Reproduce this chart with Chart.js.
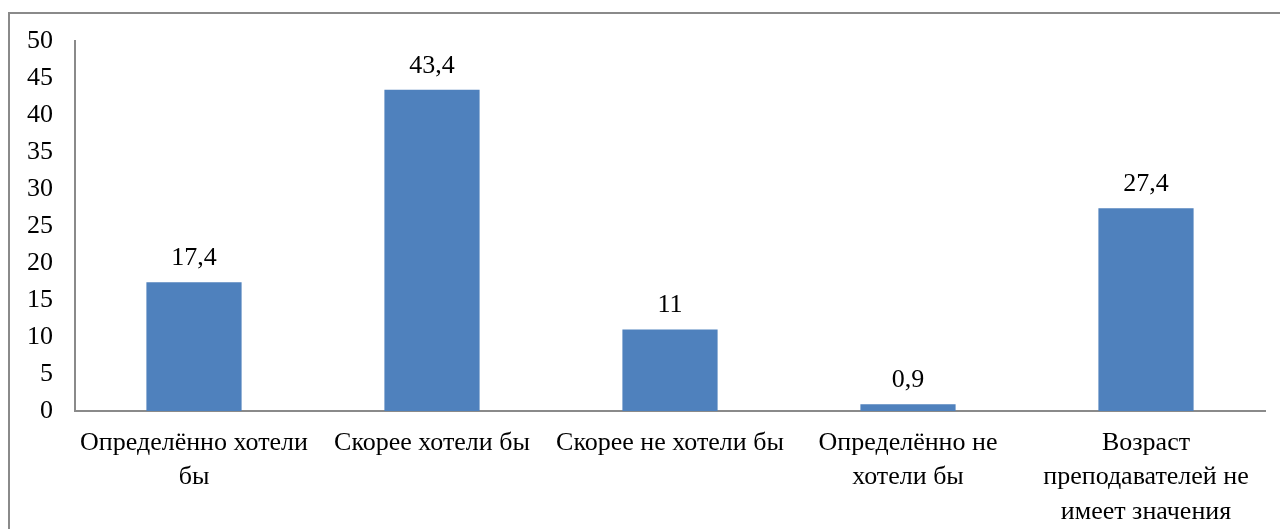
<!DOCTYPE html>
<html>
<head>
<meta charset="utf-8">
<script src="https://cdn.jsdelivr.net/npm/chart.js@4"></script>
<style>
  body{margin:0;background:#fff;overflow:hidden;}
  #wrap{position:relative;width:1280px;height:529px;}
  #frame{position:absolute;left:8px;top:12px;width:1300px;height:600px;border:2px solid #8a8a8a;box-sizing:border-box;}
  canvas{position:absolute;left:0;top:0;}
</style>
</head>
<body>
<div id="wrap">
  <div id="frame"></div>
  <canvas id="mychart" width="1280" height="529"></canvas>
</div>
<script>
const categories=[
  ['Определённо хотели','бы'],
  ['Скорее хотели бы'],
  ['Скорее не хотели бы'],
  ['Определённо не','хотели бы'],
  ['Возраст','преподавателей не','имеет значения']
];
const values=[17.4,43.4,11,0.9,27.4];
const valueLabels=['17,4','43,4','11','0,9','27,4'];

const fontFamily="'Liberation Serif','Times New Roman',serif";

// подписи над столбцами
const barLabels={
  id:'barLabels',
  afterDatasetsDraw(chart){
    const c=chart.ctx;
    const meta=chart.getDatasetMeta(0);
    c.save();
    c.font='26px '+fontFamily;
    c.fillStyle='#000';
    c.textAlign='center';
    c.textBaseline='middle';
    meta.data.forEach((bar,i)=>{
      c.fillText(valueLabels[i],bar.x,bar.y-24);
    });
    c.restore();
  }
};

const ctx=document.getElementById('mychart').getContext('2d');
let mychart=new Chart(ctx,{
  type:'bar',
  data:{
    labels:categories,
    datasets:[{
      data:values,
      backgroundColor:'#4f81bd',
      borderWidth:0,
      categoryPercentage:1,
      barPercentage:0.4
    }]
  },
  options:{
    responsive:false,
    animation:false,
    layout:{padding:{top:41,right:15,bottom:0,left:0}},
    plugins:{legend:{display:false},tooltip:{enabled:false}},
    scales:{
      x:{
        grid:{display:false,drawTicks:false},
        border:{color:'#8a8a8a',width:2},
        ticks:{color:'#000',font:{family:fontFamily,size:26,lineHeight:1.32},padding:15,maxRotation:0,autoSkip:false},
        afterFit(s){s.height=118;}
      },
      y:{
        min:0,max:50,
        grid:{display:false,drawTicks:false},
        border:{color:'#8a8a8a',width:2},
        ticks:{stepSize:5,color:'#000',font:{family:fontFamily,size:26},padding:22},
        afterFit(s){s.width=75;}
      }
    }
  },
  plugins:[barLabels]
});
</script>
</body>
</html>
